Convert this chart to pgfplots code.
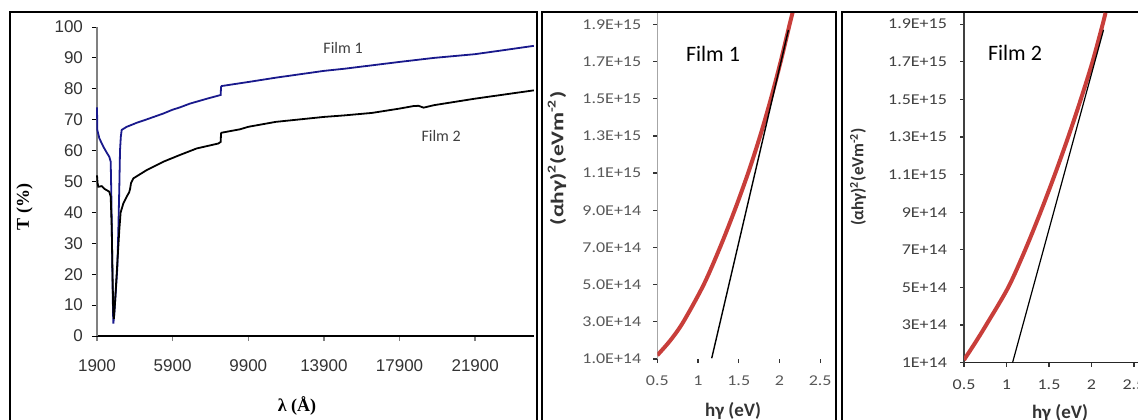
\documentclass[border=0pt]{standalone}
\usepackage{graphicx}
\usepackage{fontspec}
\setmainfont{Liberation Sans}
\newfontfamily\lsans{Liberation Sans}
\newfontfamily\lserif{Liberation Serif}
\newfontfamily\carlito{Carlito}
\usepackage{pgfplots}
\pgfplotsset{compat=1.18}
\definecolor{filmblue}{RGB}{25,25,140}
\definecolor{fitred}{RGB}{200,62,58}
\newcommand\sx[1]{\scalebox{1.2}[1]{#1}}
\begin{document}
\begin{tikzpicture}
\useasboundingbox (0,0) rectangle (569pt,209.5pt);
% frames
\draw[line width=1pt] (5pt,-5pt) -- (5pt,203.5pt) -- (268.5pt,203.5pt) -- (268.5pt,-5pt);
\draw[line width=1pt] (271pt,-5pt) -- (271pt,203.5pt) -- (418pt,203.5pt) -- (418pt,-5pt);
\draw[line width=1pt] (421pt,-5pt) -- (421pt,203.5pt) -- (580pt,203.5pt);

% ---------- left panel ----------
\begin{axis}[
  at={(48.5pt,41.5pt)}, anchor=south west, scale only axis,
  width=218.4pt, height=154.5pt,
  xmin=1900, xmax=25000, ymin=0, ymax=100,
  axis x line*=bottom, axis y line*=left,
  x axis line style={black, line width=0.6pt},
  y axis line style={gray, line width=0.6pt},
  xtick={1900,5900,9900,13900,17900,21900}, ytick={0,10,...,100},
  scaled x ticks=false,
  tick align=outside, major tick length=2.5pt,
  x tick style={gray, line width=0.7pt}, y tick style={black, line width=0.5pt},
  tick label style={font=\lsans\fontsize{8.5}{10}\selectfont, text=black!80},
  /pgf/number format/assume math mode=true,
  /pgf/number format/set thousands separator={},
  xticklabel style={yshift=-6pt},
  yticklabel style={xshift=-1pt},
  xlabel={\lserif\bfseries λ (Å)},
  ylabel={\lserif\bfseries T (\%)},
  xlabel style={at={(axis description cs:0.458,-0.228)}, anchor=center, font=\fontsize{9}{10}\selectfont},
  ylabel style={at={(axis description cs:-0.166,0.417)}, anchor=center, font=\fontsize{9}{10}\selectfont},
  clip=false,
]
\addplot[filmblue, line width=0.9pt] coordinates {
(1900,74) (1916,66.7) (2022,64) (2233,61.3) (2400,59.5) (2550,58) (2625,56.4)
(2660,45) (2700,27) (2735,12) (2762,4) (2800,6) (2900,15) (2974,22) (3027,34)
(3080,48) (3117,60) (3160,64.5) (3206,66.7) (3471,67.7) (4000,69) (4529,70.1)
(5407,72) (5882,73.2) (6291,74.0) (6809,75.2) (7718,76.8) (8440,78.0) (8460,80.6)
(8496,80.9) (9465,81.8) (9900,82.2) (11354,83.6) (13900,85.8) (14990,86.5)
(16444,87.6) (17900,88.7) (19718,90) (21880,91.2) (23400,92.5) (25000,93.9)
};
\addplot[black, line width=0.9pt] coordinates {
(1900,52) (1930,49.5) (1970,48.3) (2148,48.5) (2300,47.6) (2413,47.2) (2550,46.7)
(2625,45.1) (2680,35) (2720,20) (2760,8) (2790,5.5) (2852,10.7) (2974,23.5)
(3080,34.3) (3150,40) (3293,42.9) (3471,45.1) (3600,46.5) (3646,47.5) (3700,49.5)
(3820,51) (4529,53.7) (5407,56.4) (6291,58.6) (7174,60.7) (8318,62.3) (8440,62.8)
(8460,65.6) (8496,65.8) (9465,66.9) (9900,67.7) (11354,69.3) (13900,70.9)
(14990,71.4) (16444,72.2) (17900,73.6) (18626,74.4) (18900,74.5) (19172,73.9)
(19718,74.7) (21880,76.8) (23500,78.2) (25000,79.5)
};
\node[font=\carlito\fontsize{8}{9}\selectfont, text=black!75] at (axis cs:14913,93.2) {Film 1};
\node[font=\carlito\fontsize{8}{9}\selectfont, text=black!75] at (axis cs:20098,64.7) {Film 2};
\end{axis}

% ---------- middle panel ----------
\begin{axis}[
  at={(328.65pt,30pt)}, anchor=south west, scale only axis,
  width=85.5pt, height=172.9pt,
  xmin=0.5, xmax=2.6, ymin=1, ymax=19.6,
  axis x line*=bottom, axis y line*=left,
  x axis line style={draw=none},
  y axis line style={gray!70, line width=0.8pt},
  xtick={0.5,1,1.5,2,2.5}, ytick={1,3,...,19},
  yticklabels={\sx{1.0E+14},\sx{3.0E+14},\sx{5.0E+14},\sx{7.0E+14},\sx{9.0E+14},\sx{1.1E+15},\sx{1.3E+15},\sx{1.5E+15},\sx{1.7E+15},\sx{1.9E+15}},
  xticklabels={\sx{0.5},\sx{1},\sx{1.5},\sx{2},\sx{2.5}},
  tick align=outside, major tick length=2pt,
  tick style={black!80, line width=0.6pt},
  tick label style={font=\carlito\fontsize{7.5}{9}\selectfont, text=black!65},
  xticklabel style={yshift=-3pt},
  yticklabel style={xshift=-2.5pt},
  xlabel={\carlito\bfseries hγ (eV)},
  ylabel={\carlito\bfseries\scalebox{1.3}[1]{(αhγ)\textsuperscript{2}(eVm\textsuperscript{-2})}},
  xlabel style={at={(axis description cs:0.443,-0.15)}, anchor=center, font=\fontsize{9.5}{10}\selectfont, text=black!80},
  ylabel style={at={(axis description cs:-0.587,0.58)}, anchor=center, font=\fontsize{9}{10}\selectfont, text=black!80},
]
\addplot[fitred, line width=2pt, smooth] coordinates {
(0.5,1.2) (0.66,2.0) (0.82,3) (1.07,5) (1.27,7) (1.45,9) (1.615,11)
(1.763,13) (1.895,15) (2.015,17) (2.125,19) (2.18,19.96)
};
\addplot[black, line width=0.7pt] coordinates {(1.168,1.04) (2.11,18.7)};
\node[font=\carlito\fontsize{11}{12}\selectfont] at (axis cs:1.184,17.4) {Film 1};
\end{axis}

% ---------- right panel ----------
\begin{axis}[
  at={(482pt,28.15pt)}, anchor=south west, scale only axis,
  width=95.6pt, height=174.9pt,
  xmin=0.5, xmax=2.75, ymin=1, ymax=19.6,
  axis x line*=bottom, axis y line*=left,
  x axis line style={black!85, line width=0.7pt},
  y axis line style={black!75, line width=0.7pt},
  xtick={0.5,1,1.5,2,2.5}, ytick={1,3,...,19},
  yticklabels={\sx{1E+14},\sx{3E+14},\sx{5E+14},\sx{7E+14},\sx{9E+14},\sx{1.1E+15},\sx{1.3E+15},\sx{1.5E+15},\sx{1.7E+15},\sx{1.9E+15}},
  xticklabels={\sx{0.5},\sx{1},\sx{1.5},\sx{2},\sx{2.5}},
  tick align=outside, major tick length=2pt,
  tick style={black!80, line width=0.6pt},
  tick label style={font=\carlito\fontsize{7.5}{9}\selectfont, text=black!75},
  xticklabel style={yshift=-3pt},
  yticklabel style={xshift=-3pt},
  xlabel={\carlito\bfseries hγ (eV)},
  ylabel={\carlito\bfseries (αhγ)\textsuperscript{2}(eVm\textsuperscript{-2})},
  xlabel style={at={(axis description cs:0.502,-0.145)}, anchor=center, font=\fontsize{9.5}{10}\selectfont, text=black!80},
  ylabel style={at={(axis description cs:-0.554,0.531)}, anchor=center, font=\fontsize{8.5}{10}\selectfont, text=black!80},
]
\addplot[fitred, line width=2pt, smooth] coordinates {
(0.5,1.15) (0.63,2.05) (0.76,3) (1.02,5) (1.22,7) (1.40,9) (1.568,11)
(1.726,13) (1.874,15) (2.012,17) (2.132,19) (2.165,19.6)
};
\addplot[black, line width=0.6pt] coordinates {(1.071,1.0) (2.142,18.7)};
\node[font=\carlito\fontsize{11}{12}\selectfont] at (axis cs:1.1,17.47) {Film 2};
\end{axis}
\end{tikzpicture}
\end{document}
